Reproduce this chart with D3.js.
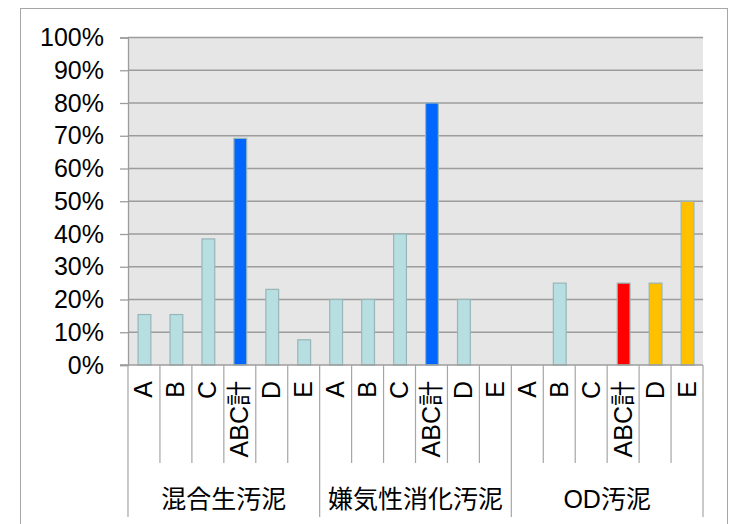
<!DOCTYPE html>
<html><head><meta charset="utf-8">
<script src="https://cdn.jsdelivr.net/npm/d3@7"></script>
<style>body{margin:0;background:#fff}</style>
</head><body>
<svg id="c" width="735" height="524"></svg>
<script>
const groups = ["混合生汚泥","嫌気性消化汚泥","OD汚泥"];
const categories = ["A","B","C","ABC計","D","E"];
const values = [
  [0.154,0.154,0.385,0.692,0.231,0.077],
  [0.20,0.20,0.40,0.80,0.20,0],
  [0,0.25,0,0.25,0.25,0.50]
];
const colors = [
  ["#B7DFE1","#B7DFE1","#B7DFE1","#0066FF","#B7DFE1","#B7DFE1"],
  ["#B7DFE1","#B7DFE1","#B7DFE1","#0066FF","#B7DFE1","#B7DFE1"],
  ["#B7DFE1","#B7DFE1","#B7DFE1","#FF0000","#FFC000","#FFC000"]
];
const yTicks = [0,0.1,0.2,0.3,0.4,0.5,0.6,0.7,0.8,0.9,1.0];

const rows = [];
groups.forEach((g,gi)=>categories.forEach((c,ci)=>rows.push({key:gi+"_"+ci,g,gi,c,v:values[gi][ci],col:colors[gi][ci]})));

const svg = d3.select("#c");
const L=128,R=703,T=37.5,B=365;
const font = "'Liberation Sans','Noto Sans CJK JP',Arial,sans-serif";
const fs = 25;

// outer frame
svg.append("rect").attr("x",20.5).attr("y",8.5).attr("width",707).attr("height",530)
  .attr("fill","#fff").attr("stroke","#A6A6A6").attr("stroke-width",1);

const x = d3.scaleBand().domain(rows.map(d=>d.key)).range([L,R]).padding(0);
const y = d3.scaleLinear().domain([0,1]).range([B,T]);

svg.append("rect").attr("x",L).attr("y",T).attr("width",R-L).attr("height",B-T).attr("fill","#E6E6E6");

// gridlines
svg.append("g").selectAll("line").data(yTicks.filter(t=>t>0)).join("line")
  .attr("x1",L).attr("x2",R).attr("y1",d=>y(d)).attr("y2",d=>y(d))
  .attr("stroke","#9C9C9C").attr("stroke-width",1.3);

// y axis
const yAxis = d3.axisLeft(y).tickValues(yTicks).tickFormat(d3.format(".0%")).tickSize(8).tickPadding(16);
const ya = svg.append("g").attr("transform",`translate(${L},0)`).call(yAxis);
ya.select(".domain").attr("stroke","#9C9C9C").attr("stroke-width",1.3);
ya.selectAll(".tick line").attr("stroke","#9C9C9C").attr("stroke-width",1.3);
ya.selectAll("text").attr("font-family",font).attr("font-size",fs).attr("fill","#000");

// bars
const bw = x.bandwidth()*0.4;
svg.append("g").selectAll("rect").data(rows.filter(d=>d.v>0)).join("rect")
  .attr("x",d=>x(d.key)+(x.bandwidth()-bw)/2+0.5)
  .attr("width",bw)
  .attr("y",d=>y(d.v))
  .attr("height",d=>y(0)-y(d.v))
  .attr("fill",d=>d.col)
  .attr("stroke","#97B6B8").attr("stroke-width",1.2);

// baseline
svg.append("line").attr("x1",L-8).attr("x2",R).attr("y1",B).attr("y2",B)
  .attr("stroke","#9C9C9C").attr("stroke-width",1.3);

// category dividers
const dividers = d3.range(rows.length+1).map(i=>L+i*x.bandwidth());
svg.append("g").selectAll("line").data(dividers).join("line")
  .attr("x1",d=>d).attr("x2",d=>d).attr("y1",B)
  .attr("y2",(d,i)=> i%categories.length===0 ? 517 : 463)
  .attr("stroke","#A6A6A6").attr("stroke-width",1.2);

// category labels (rotated)
svg.append("g").selectAll("text").data(rows).join("text")
  .attr("transform",d=>`translate(${x(d.key)+x.bandwidth()/2+8.5},381) rotate(-90)`)
  .attr("text-anchor","end")
  .attr("font-family",font).attr("font-size",fs).attr("fill","#000")
  .text(d=>d.c);

// group labels
const gw = x.bandwidth()*categories.length;
svg.append("g").selectAll("text").data(groups).join("text")
  .attr("x",(d,i)=>L+gw*i+gw/2).attr("y",508)
  .attr("text-anchor","middle")
  .attr("font-family",font).attr("font-size",fs).attr("fill","#000")
  .text(d=>d);
</script>
</body></html>
